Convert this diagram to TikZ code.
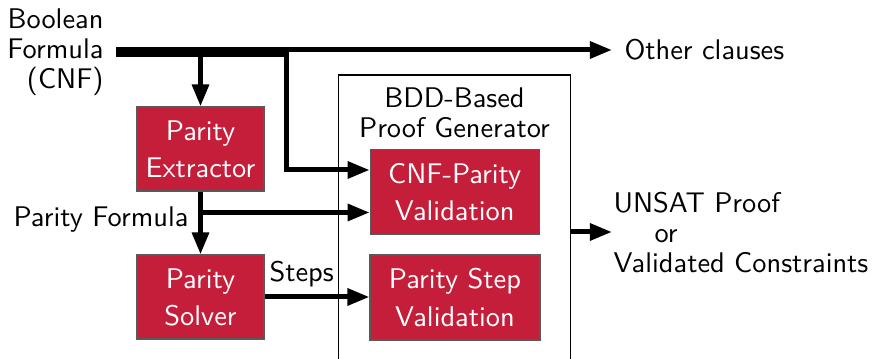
\documentclass[tikz,border=0pt]{standalone}
\usetikzlibrary{arrows.meta,calc}
\newcommand\pxu{0.3856pt}
\definecolor{crimson}{RGB}{196,30,58}
\tikzset{
  flow/.style={line width=1.93pt, -{Triangle[length=8.5pt,width=6.3pt]}},
  stage/.style={rectangle, fill=crimson, draw=black!65, line width=0.4pt,
    text=white, align=center, inner sep=0pt,
    font=\fontsize{10.95}{14.27}\selectfont\sffamily},
  plaintext/.style={inner sep=0pt, font=\fontsize{10.95}{11.57}\selectfont\sffamily},
}
\begin{document}
\begin{tikzpicture}[x=\pxu, y=-\pxu]
\useasboundingbox (0,0) rectangle (879,359);
\clip (0,0) rectangle (879,359);

% frame of the proof generator (runs past the lower edge)
\node[draw=black, line width=0.4pt, minimum width=232.4*\pxu, minimum height=305*\pxu,
      inner sep=0pt] (gen) at (454.5,227.5) {};
\node[plaintext, align=center, anchor=north] (gentitle) at (454.5,87)
  {BDD-Based\\Proof Generator};

% processing stages
\node[stage, minimum width=127*\pxu, minimum height=84*\pxu] (ext) at (200.5,149) {Parity\\Extractor};
\node[stage, minimum width=127*\pxu, minimum height=84*\pxu] (solver) at (200.5,297) {Parity\\Solver};
\node[stage, minimum width=169*\pxu, minimum height=85*\pxu] (cnfv) at (454.7,191.8) {CNF-Parity\\Validation};
\node[stage, minimum width=170*\pxu, minimum height=85*\pxu] (stepv) at (455,297.5) {Parity Step\\Validation};

% free labels
\node[plaintext, align=right, anchor=north east] (cnf) at (104,8.6) {Boolean\\Formula\\(CNF)};
\node[plaintext, anchor=base west] (other) at (624,60) {Other clauses};
\node[plaintext, anchor=base east] (pform) at (189,226.7) {Parity Formula};
\node[plaintext, anchor=base west] (steps) at (269,281.7) {Steps};
\node[plaintext, align=left, anchor=north west] (result) at (613,192)
  {UNSAT Proof\\\hspace*{15.8pt}or\\Validated Constraints};

% connector end points
\coordinate (srcA) at (116,50);
\coordinate (srcB) at (116,54.5);
\coordinate (bend) at (286.5,0);
\coordinate (octip) at (612,50);
\coordinate (outtip) at (612,232);
\coordinate (cnfin) at ($(cnfv.west)+(0,-21.8)$);
\coordinate (pfin) at ($(cnfv.west)+(0,20.7)$);

% connectors
\draw[flow] (srcA) -- (octip);
\draw[flow] (srcB) -| (bend |- cnfin) -- (cnfin);
\draw[flow] (ext.north |- srcB) -- (ext.north);
\draw[flow] (ext) -- (solver);
\draw[flow] (ext.south |- pfin) -- (pfin);
\draw[flow] (solver.east) -- (solver.east -| stepv.west);
\draw[flow] (gen.east |- outtip) -- (outtip);
\end{tikzpicture}
\end{document}
